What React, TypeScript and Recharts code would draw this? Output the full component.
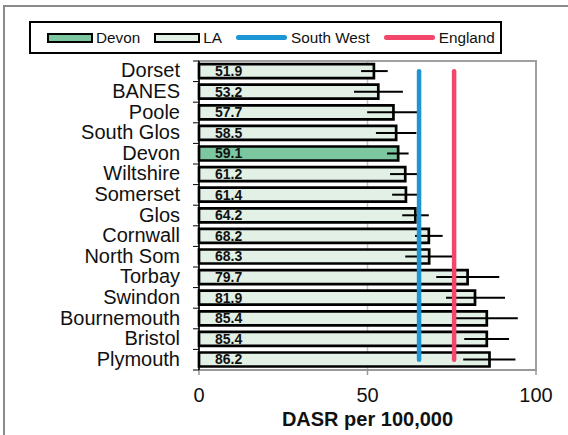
import React from 'react';
import {
  ComposedChart, Bar, Line, XAxis, YAxis, CartesianGrid, ErrorBar, LabelList,
  Cell, Legend, ReferenceArea,
} from 'recharts';

const categories = ['Dorset', 'BANES', 'Poole', 'South Glos', 'Devon', 'Wiltshire', 'Somerset', 'Glos', 'Cornwall', 'North Som', 'Torbay', 'Swindon', 'Bournemouth', 'Bristol', 'Plymouth'];
const rates = [51.9, 53.2, 57.7, 58.5, 59.1, 61.2, 61.4, 64.2, 68.2, 68.3, 79.7, 81.9, 85.4, 85.4, 86.2];
const errLow = [3.8, 7.2, 7.8, 6.0, 3.3, 4.5, 4.1, 3.9, 4.1, 7.1, 9.3, 8.6, 9.2, 6.7, 7.8];
const errHigh = [4.1, 7.3, 7.8, 6.0, 3.1, 4.5, 4.1, 4.0, 4.1, 7.1, 9.4, 8.9, 9.2, 6.6, 7.7];
const southWest = 65.3;
const england = 75.7;
const xTicks = [0, 50, 100];
const highlight = 'Devon';

const data = categories.map((name, i) => ({
  name,
  value: rates[i],
  err: [errLow[i], errHigh[i]],
  sw: southWest,
  eng: england,
}));

const FONT = '"Liberation Sans", Arial, sans-serif';
const W = 568;
const H = 435;
const MARGIN = { top: 61, right: 32, bottom: 0, left: 79 };
const Y_W = 120;
const X_H = 65;
const PLOT_H = H - MARGIN.top - MARGIN.bottom - X_H;
const BAND = PLOT_H / categories.length;

const COL_LA = '#e2f0e6';
const COL_DEVON = '#7cc6a0';
const COL_SW = '#1b95d3';
const COL_ENG = '#f2466a';

const YTick = (props: any) => {
  const { x, y, payload, index } = props;
  const ax = x + 19;
  return (
    <g>
      <line x1={ax - 6} x2={ax} y1={y - BAND / 2} y2={y - BAND / 2} stroke="#000" strokeWidth={1} />
      {index === categories.length - 1 && (
        <line x1={ax - 6} x2={ax} y1={y + BAND / 2} y2={y + BAND / 2} stroke="#000" strokeWidth={1} />
      )}
      <text x={x} y={y} dy="0.3em" textAnchor="end" fontSize={20} fontFamily={FONT} fill="#111">
        {payload.value}
      </text>
    </g>
  );
};

const LegendBox = () => {
  const swatch = (fill: string) => (
    <span style={{ display: 'inline-block', width: 42, height: 6, border: '2.5px solid #000', background: fill, marginRight: 3 }} />
  );
  const lineSw = (c: string) => (
    <span style={{ display: 'inline-block', width: 51, height: 4.5, borderRadius: 3, background: c, marginRight: 4 }} />
  );
  const item: React.CSSProperties = { display: 'flex', alignItems: 'center', marginRight: 14 };
  return (
    <div style={{
      boxSizing: 'border-box', width: 473, height: 33, border: '2px solid #000', background: '#fff',
      display: 'flex', alignItems: 'center', paddingLeft: 16, fontFamily: FONT, fontSize: 15.3, color: '#111',
    }}>
      <div style={item}>{swatch(COL_DEVON)}<span>Devon</span></div>
      <div style={item}>{swatch(COL_LA)}<span>LA</span></div>
      <div style={item}>{lineSw(COL_SW)}<span>South West</span></div>
      <div style={{ ...item, marginRight: 0 }}>{lineSw(COL_ENG)}<span>England</span></div>
    </div>
  );
};

export default function App() {
  return (
    <div style={{ position: 'absolute', left: 0, top: 0, width: W, height: H, background: '#fff', fontFamily: FONT }}>
      <div style={{ position: 'absolute', left: 3, top: 5, width: W, height: H, borderTop: '2px solid #8a8a8a', borderLeft: '2px solid #8a8a8a', boxSizing: 'border-box' }} />
      <ComposedChart
        width={W}
        height={H}
        layout="vertical"
        data={data}
        margin={MARGIN}
        barCategoryGap="15%"
        style={{ position: 'absolute', left: 0, top: 0 }}
      >
        <CartesianGrid horizontal={false} vertical={true} stroke="#c4c4c4" strokeWidth={1.5} />
        <ReferenceArea x1={0} x2={100} stroke="#a0a0a0" strokeWidth={2} fill="none" fillOpacity={0} ifOverflow="visible" />
        <XAxis
          type="number"
          domain={[0, 100]}
          ticks={xTicks}
          height={X_H}
          tickSize={5}
          tickMargin={13}
          axisLine={{ stroke: '#999', strokeWidth: 2 }}
          tickLine={{ stroke: '#999', strokeWidth: 1.5 }}
          tick={{ fontSize: 20, fill: '#111', fontFamily: FONT }}
          label={{ value: 'DASR per 100,000', position: 'insideBottom', offset: 9, fontSize: 20, fontWeight: 'bold', fill: '#111', fontFamily: FONT }}
        />
        <YAxis
          type="category"
          dataKey="name"
          width={Y_W}
          tickSize={0}
          tickMargin={19}
          interval={0}
          axisLine={{ stroke: '#000', strokeWidth: 1.5 }}
          tickLine={false}
          tick={<YTick />}
        />
        <Legend
          content={<LegendBox />}
          layout="horizontal"
          verticalAlign="middle"
          align="center"
          wrapperStyle={{ left: 29, top: 21, width: 473, height: 33 }}
        />
        <Bar dataKey="value" name="LA" fill={COL_LA} stroke="#000" strokeWidth={2.7} isAnimationActive={false}>
          {data.map((d) => (
            <Cell key={d.name} fill={d.name === highlight ? COL_DEVON : COL_LA} />
          ))}
          <ErrorBar dataKey="err" direction="x" width={0} stroke="#000" strokeWidth={2} />
          <LabelList
            dataKey="value"
            position="insideLeft"
            offset={16}
            formatter={(v: any) => Number(v).toFixed(1)}
            style={{ fontSize: 14, fontWeight: 'bold', fill: '#111', fontFamily: FONT }}
          />
        </Bar>
        <Line dataKey="sw" name="South West" stroke={COL_SW} strokeWidth={4.5} strokeLinecap="round" dot={false} activeDot={false} isAnimationActive={false} />
        <Line dataKey="eng" name="England" stroke={COL_ENG} strokeWidth={4.5} strokeLinecap="round" dot={false} activeDot={false} isAnimationActive={false} />
      </ComposedChart>
    </div>
  );
}
